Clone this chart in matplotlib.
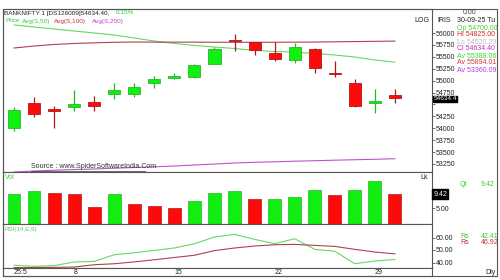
import matplotlib
matplotlib.use('Agg')
import matplotlib.pyplot as plt
from matplotlib import font_manager
from matplotlib.patches import Rectangle
from matplotlib.lines import Line2D
import matplotlib.transforms as mtransforms

W, H = 500., 280.

# ---- data ----
opens = [54005, 54530, 54394, 54446, 54551, 54719, 54710, 54950, 55055, 55076,
         55349, 55853, 55811, 55580, 55433, 55664, 55160, 54950, 54530, 54700]
highs = [54446, 54656, 54467, 54803, 54677, 54950, 54950, 55097, 55160, 55349,
         55706, 55979, 55811, 55811, 55790, 55685, 55412, 55034, 54824, 54825]
lows = [53942, 54236, 54005, 54362, 54362, 54614, 54656, 54845, 55034, 55065,
        55349, 55622, 55538, 55412, 55370, 55160, 55076, 54446, 54320, 54520.2]
closes = [54383, 54299, 54372, 54509, 54467, 54803, 54870, 55034, 55097, 55328,
          55664, 55832, 55643, 55454, 55706, 55265, 55139, 54467, 54572, 54634.4]

avg50 = [56168, 56126, 56084, 56042, 56000, 55958, 55895, 55832, 55780, 55738,
         55706, 55675, 55633, 55612, 55601, 55570, 55538, 55496, 55433, 55388]
avg100 = [55685, 55727, 55759, 55780, 55794, 55805, 55811, 55808, 55808, 55808,
          55806, 55805, 55805, 55806, 55808, 55810, 55815, 55820, 55825, 55830]
avg200 = [53081, 53102, 53119, 53133, 53144, 53161, 53175, 53190, 53207, 53228,
          53249, 53270, 53285, 53295, 53308, 53318, 53329, 53339, 53348, 53360]

volume = [9.5, 10.4, 9.8, 9.5, 5.4, 9.5, 6.3, 5.7, 5.1, 7.3,
          9.8, 10.4, 7.9, 7.8, 8.5, 10.7, 9.2, 10.7, 13.6, 9.42]
vol_dir = ['g', 'g', 'r', 'r', 'r', 'g', 'r', 'r', 'r', 'g',
           'g', 'g', 'r', 'g', 'g', 'g', 'r', 'g', 'g', 'r']

rsi = [37.8, 37.0, 37.5, 40.4, 40.9, 46.2, 47.8, 49.7, 51.6, 55.0,
       60.4, 62.5, 58.5, 55.0, 59.0, 50.5, 49.0, 39.0, 41.2, 42.4]
rsi_sig = [35.9, 36.0, 36.1, 36.4, 38.2, 39.0, 40.5, 42.2, 44.0, 45.8,
           49.5, 51.6, 53.2, 54.2, 54.5, 53.7, 52.9, 50.5, 48.4, 46.9]

date_pos = [0, 3, 8, 13, 18]
date_labels = ['25:5', '8', '15', '22', '29']

price_ticks = [56000, 55750, 55500, 55250, 55000, 54750, 54500, 54250, 54000, 53750, 53500, 53250]

GREEN = '#11ee11'
GREEN_E = '#22b822'
RED = '#ff0a0a'
RED_E = '#b01818'
FRAME = '#555555'

names = set(f.name for f in font_manager.fontManager.ttflist)
fam = 'Liberation Sans Narrow' if 'Liberation Sans Narrow' in names else 'Liberation Sans'
plt.rcParams['font.family'] = [fam, 'DejaVu Sans']
plt.rcParams['font.size'] = 5


def fx(x):
    return x / W


def fy(y):
    return 1 - y / H


fig = plt.figure(figsize=(5, 2.8), dpi=100)
fig.patch.set_facecolor('white')

left, width = fx(3), (432 - 3) / W
ax = fig.add_axes([left, fy(172), width, (172 - 9) / H])
axv = fig.add_axes([left, fy(224), width, (224 - 172) / H], sharex=ax)
axr = fig.add_axes([left, fy(268), width, (268 - 224) / H], sharex=ax)
axd = fig.add_axes([left, fy(276), width, (276 - 268) / H], sharex=ax)

for a in (ax, axv, axr, axd):
    for s in a.spines.values():
        s.set_color(FRAME)
        s.set_linewidth(0.8)
    a.tick_params(axis='x', bottom=False, labelbottom=False)
    a.yaxis.tick_right()
    a.tick_params(axis='y', direction='out', length=2, width=0.6, pad=0.5,
                  colors=FRAME, labelcolor='#222222', labelsize=5)

x = list(range(len(opens)))

# candles
for i in x:
    o, h, l, c = opens[i], highs[i], lows[i], closes[i]
    up = c >= o
    fc = GREEN if up else RED
    ec = GREEN_E if up else RED_E
    ax.vlines(i, l, h, color=ec, lw=0.9, zorder=2)
    body = max(abs(c - o), 25)
    ax.bar(i, body, bottom=min(o, c) - (body - abs(c - o)) / 2, width=0.6,
           color=fc, edgecolor=ec, linewidth=0.6, zorder=3)

ax.plot(x, avg50, color='#66d866', lw=0.8, zorder=1)
ax.plot(x, avg100, color='#b04050', lw=0.8, zorder=1)
ax.plot(x, avg200, color='#c050d0', lw=0.8, zorder=1)

ax.set_xlim(-0.55, 20.85)
ax.set_ylim(53081, 56504)
ax.set_yticks(price_ticks)
# 54500 sits under the last-price box, as on the original
ax.set_yticklabels(['' if t == 54500 else str(t) for t in price_ticks])

blend = mtransforms.blended_transform_factory(ax.transAxes, ax.transData)
ax.text(1.003, closes[-1] - 15, '54634.4', transform=blend, ha='left', va='center',
        color='white', fontsize=4.6, zorder=10,
        bbox=dict(facecolor='black', edgecolor='black', pad=0.5))
ax.text(0.995, 0.93, 'LOG', transform=ax.transAxes, ha='right', va='center',
        fontsize=5, color='#222222')

# volume
vcol = [GREEN if d == 'g' else RED for d in vol_dir]
vedge = [GREEN_E if d == 'g' else RED_E for d in vol_dir]
axv.bar(x, volume, width=0.64, color=vcol, edgecolor=vedge, linewidth=0.5)
axv.set_ylim(0, 16.4)
axv.set_yticks([5])
axv.set_yticklabels(['5.00'])
blendv = mtransforms.blended_transform_factory(axv.transAxes, axv.transData)
axv.text(1.003, volume[-1], '9.42', transform=blendv, ha='left', va='center',
         color='white', fontsize=5, zorder=10,
         bbox=dict(facecolor='black', edgecolor='black', pad=0.9))
axv.text(0.004, 0.9, 'Vol', transform=axv.transAxes, ha='left', va='center',
         color='#44cc44', fontsize=5)
axv.text(0.99, 0.9, 'Lk', transform=axv.transAxes, ha='right', va='center',
         color='#222222', fontsize=5)

# rsi
axr.plot(x, rsi, color='#66d866', lw=0.8)
axr.plot(x, rsi_sig, color='#b04050', lw=0.8)
axr.set_ylim(35.6, 70.8)
axr.set_yticks([60, 50, 40])
axr.set_yticklabels(['60.00', '50.00', '40.00'])
axr.text(0.003, 0.88, 'RSI(14,E,9)', transform=axr.transAxes, ha='left', va='center',
         color='#55cc55', fontsize=4.5)

# date strip
axd.set_yticks([])
axd.set_ylim(0, 1)
for p, lab in zip(date_pos, date_labels):
    axd.text(p, 0.45, lab, ha='left', va='center', fontsize=5, color='#222222')

# header
fig.text(fx(4), fy(13), 'BANKNIFTY 1 [DS126009]54634.40,', ha='left', va='center',
         fontsize=4.6, color='#222222')
fig.text(fx(116), fy(13), '0.15%', ha='left', va='center', fontsize=4.6, color='#33cc33')
fig.text(fx(5), fy(21), 'Price', ha='left', va='center', fontsize=4.6, color='#33cc33')
fig.text(fx(22), fy(21), 'Avg(S,50)', ha='left', va='center', fontsize=4.6, color='#33cc33')
fig.text(fx(54), fy(21), 'Avg(S,100)', ha='left', va='center', fontsize=4.6, color='#c03040')
fig.text(fx(92), fy(21), 'Avg(S,200)', ha='left', va='center', fontsize=4.6, color='#c040c0')

fig.text(fx(31), fy(167), 'Source : www.SpiderSoftwareIndia.Com', ha='left', va='center',
         fontsize=5, color='#333333')
fig.add_artist(Line2D([fx(31), fx(145)], [fy(170.5), fy(170.5)], color='#333333', lw=0.5))

# right info panel
fig.text(fx(437), fy(20), 'IRIS', ha='left', va='center', fontsize=5, color='#222222')
fig.text(fx(470), fy(13), '0.00', ha='center', va='center', fontsize=5, color='#444444')
info = [('30-09-25 Tu', '#222222'), ('Op 54700.00', '#33dd33'), ('Hi 54825.00', '#e02020'),
        ('Lo 54520.20', '#bbbbbb'), ('Cl 54634.40', '#c030c0'), ('Av 55388.06', '#33dd33'),
        ('Av 55894.01', '#d03a3a'), ('Av 53360.09', '#b040e0')]
for k, (t, c) in enumerate(info):
    fig.text(fx(457), fy(21 + k * 7), t, ha='left', va='center', fontsize=5, color=c)

fig.text(fx(460), fy(185), 'Qt', ha='left', va='center', fontsize=5, color='#33cc33')
fig.text(fx(481), fy(185), '9.42', ha='left', va='center', fontsize=5, color='#33cc33')
fig.text(fx(460), fy(236), 'Rs', ha='left', va='center', fontsize=5, color='#33cc33')
fig.text(fx(481), fy(236), '42.41', ha='left', va='center', fontsize=5, color='#33cc33')
fig.text(fx(460), fy(243), 'Rs', ha='left', va='center', fontsize=5, color='#c03040')
fig.text(fx(481), fy(243), '46.92', ha='left', va='center', fontsize=5, color='#c03040')
fig.text(fx(485), fy(272), 'Dly', ha='left', va='center', fontsize=5, color='#222222')

# outer frame
fig.add_artist(Rectangle((fx(3), fy(276)), (497 - 3) / W, (276 - 9) / H, fill=False,
                         edgecolor=FRAME, lw=0.8))

fig.savefig('out.png', dpi=100, facecolor='white')
